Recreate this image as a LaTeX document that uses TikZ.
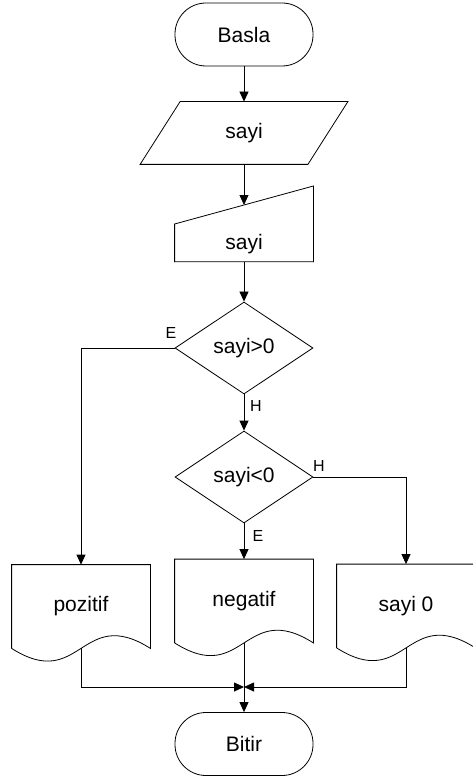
\documentclass[tikz,border=0pt]{standalone}
\usepackage{fontspec}
\setmainfont{Liberation Sans}
\usetikzlibrary{positioning, shapes.geometric, arrows.meta}

\begin{document}
\begin{tikzpicture}[x=1pt, y=-1pt,
    terminal/.style={rectangle, draw, rounded corners=31pt, minimum width=138pt, minimum height=63pt, font=\fontsize{21}{25}\selectfont},
    inbox/.style={rectangle, minimum width=167pt, minimum height=62pt, font=\fontsize{21}{25}\selectfont},
    manual/.style={rectangle, inner sep=0pt, minimum width=138pt, text height=44pt, text depth=12pt, font=\fontsize{21}{25}\selectfont},
    decision/.style={diamond, draw, inner sep=0pt, minimum width=138pt, minimum height=92pt, font=\fontsize{21}{25}\selectfont},
    document/.style={rectangle, minimum width=138pt, minimum height=83pt, font=\fontsize{21}{25}\selectfont},
    lbl/.style={font=\fontsize{16}{18}\selectfont, inner sep=0pt},
    arr/.style={-{Triangle[length=10pt, width=9pt]}, line width=0.8pt},
    every path/.style={line width=0.8pt}
  ]
  \useasboundingbox (0,0) rectangle (473,778);

  % Main column
  \node[terminal] (basla) at (244, 34.5) {Basla};
  \node[inbox] (oku) at (244, 133) {sayi};
  \node[manual, anchor=north] (gir) at (244, 205) {sayi};
  \node[decision] (buyuk) at (244, 348) {sayi>0};
  \node[decision] (kucuk) at (244, 477) {sayi<0};

  % Output documents
  \node[document] (poz) at (81, 606.5) {pozitif};
  \node[document] (neg) at (244, 601) {negatif};
  \node[document] (sifir) at (406, 606) {sayi 0};

  \node[terminal] (bitir) at (244, 744) {Bitir};
  \coordinate (birles) at (244, 687);

  % Outlines of the special shapes
  \draw ([xshift=20pt]oku.north west) -- ([xshift=20pt]oku.north east)
    -- ([xshift=-20pt]oku.south east) -- ([xshift=-20pt]oku.south west) -- cycle;
  \draw ([yshift=-19pt]gir.north west) -- ([yshift=19pt]gir.north east)
    -- (gir.south east) -- (gir.south west) -- cycle;
  \foreach \d in {poz, neg, sifir}
    \draw (\d.south west) -- (\d.north west) -- (\d.north east) -- (\d.south east)
      .. controls ([yshift=44pt]\d.south) and ([yshift=-44pt]\d.south) .. (\d.south west);

  % Flow
  \draw[arr] (basla) -- (oku);
  \draw[arr] (oku) -- (gir);
  \draw[arr] (gir) -- (buyuk);
  \draw[arr] (buyuk) -- (kucuk);
  \draw[arr] (buyuk.west) -| (poz.north);
  \draw[arr] (kucuk.east) -| (sifir.north);
  \draw[arr] (kucuk) -- (neg);
  \draw[arr] (poz.south) |- (birles);
  \draw[arr] (sifir.south) |- (birles);
  \draw[arr] (neg.south) -- (bitir);

  % Branch labels
  \node[lbl] (e1) at (171, 333) {E};
  \node[lbl] (h1) at (256, 406) {H};
  \node[lbl] (h2) at (319, 466) {H};
  \node[lbl] (e2) at (258, 536) {E};
\end{tikzpicture}
\end{document}
